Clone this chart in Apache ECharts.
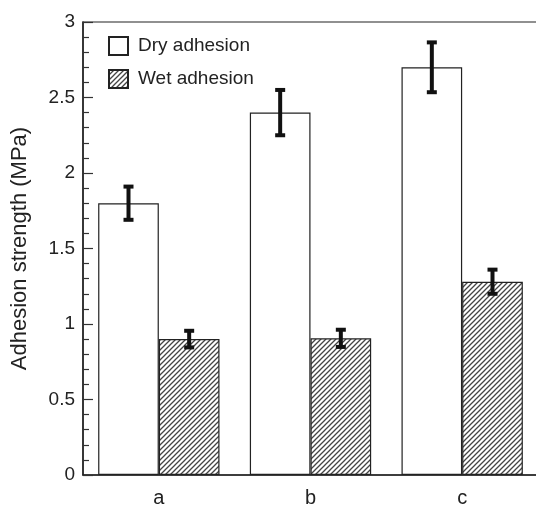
<!DOCTYPE html>
<html>
<head>
<meta charset="utf-8">
<script src="https://cdn.jsdelivr.net/npm/echarts@6/dist/echarts.min.js"></script>
<style>
html,body{margin:0;padding:0;background:#fff;}
#chart{width:536px;height:506px;}
</style>
</head>
<body>
<div id="chart"></div>
<script>
// ---- data ----
var categories = ['a', 'b', 'c'];
var dryValues = [1.80, 2.40, 2.70];
var dryErrors = [0.11, 0.15, 0.165];
var wetValues = [0.90, 0.905, 1.28];
var wetErrors = [0.055, 0.057, 0.08];
var seriesNames = ['Dry adhesion', 'Wet adhesion'];
var yAxisName = 'Adhesion strength (MPa)';

// ---- hatch pattern ----
function makeHatch() {
  var p = 5;
  var c = document.createElement('canvas');
  c.width = p; c.height = p;
  var ctx = c.getContext('2d');
  ctx.fillStyle = '#ffffff';
  ctx.fillRect(0, 0, p, p);
  ctx.strokeStyle = '#444';
  ctx.lineWidth = 1.3;
  ctx.beginPath();
  ctx.moveTo(0, p); ctx.lineTo(p, 0);
  ctx.moveTo(-1, 1); ctx.lineTo(1, -1);
  ctx.moveTo(p - 1, p + 1); ctx.lineTo(p + 1, p - 1);
  ctx.stroke();
  return c;
}
var hatch = { image: makeHatch(), repeat: 'repeat' };
var font = "'Liberation Sans', Arial, Helvetica, sans-serif";

function errData(vals, errs) {
  return vals.map(function (v, i) { return [i, v, errs[i]]; });
}
function errRender(side) {
  return function (params, api) {
    var idx = api.value(0), v = api.value(1), e = api.value(2);
    var band = api.size([1, 0])[0];
    var x = api.coord([idx, v])[0] + side * 0.2 * band;
    var yt = api.coord([idx, v + e])[1];
    var yb = api.coord([idx, v - e])[1];
    var cw = 5;
    var st = { stroke: '#111', lineWidth: 4 };
    return {
      type: 'group',
      children: [
        { type: 'line', shape: { x1: x, y1: yt, x2: x, y2: yb }, style: st },
        { type: 'line', shape: { x1: x - cw, y1: yt, x2: x + cw, y2: yt }, style: st },
        { type: 'line', shape: { x1: x - cw, y1: yb, x2: x + cw, y2: yb }, style: st }
      ]
    };
  };
}

var chart = echarts.init(document.getElementById('chart'), null, { renderer: 'canvas' });
chart.setOption({
  animation: false,
  backgroundColor: '#fff',
  textStyle: { fontFamily: font },
  grid: {
    left: 83, top: 22, right: -2, bottom: 31,
    show: true, borderColor: '#222', borderWidth: 1.2,
    containLabel: false, outerBoundsMode: 'none'
  },
  legend: {
    orient: 'vertical', left: 108, top: 36, padding: 0,
    itemWidth: 19, itemHeight: 18, itemGap: 13,
    icon: 'rect',
    textStyle: { fontSize: 19, color: '#222', fontFamily: font, padding: [0, 0, 0, 5] },
    data: seriesNames
  },
  xAxis: {
    type: 'category',
    data: categories,
    axisLine: { lineStyle: { color: '#222', width: 1.5 } },
    axisTick: { inside: true, length: 10, lineStyle: { color: '#333', width: 1 } },
    axisLabel: { fontSize: 20, color: '#222', margin: 13, fontFamily: font },
    splitLine: { show: false }
  },
  yAxis: {
    type: 'value',
    min: 0, max: 3, interval: 0.5,
    name: yAxisName,
    nameLocation: 'middle',
    nameGap: 52,
    nameTextStyle: { fontSize: 22, color: '#222', fontFamily: font },
    axisLine: { show: true, lineStyle: { color: '#222', width: 1.5 } },
    axisTick: { show: true, inside: true, length: 10, lineStyle: { color: '#333', width: 1.2 } },
    minorTick: { show: true, splitNumber: 5, length: 6, lineStyle: { color: '#333', width: 1.2 } },
    axisLabel: { fontSize: 19, color: '#222', margin: 8, fontFamily: font },
    splitLine: { show: false }
  },
  series: [
    {
      name: seriesNames[0], type: 'bar', data: dryValues,
      barGap: '0%', barCategoryGap: '20%',
      itemStyle: { color: '#fff', borderColor: '#222', borderWidth: 1.2 }
    },
    {
      name: seriesNames[1], type: 'bar', data: wetValues,
      barGap: '0%', barCategoryGap: '20%',
      itemStyle: { color: hatch, borderColor: '#222', borderWidth: 1.2 }
    },
    {
      type: 'custom', name: 'dryErr', data: errData(dryValues, dryErrors),
      encode: { x: 0, y: 1 }, renderItem: errRender(-1), z: 10
    },
    {
      type: 'custom', name: 'wetErr', data: errData(wetValues, wetErrors),
      encode: { x: 0, y: 1 }, renderItem: errRender(1), z: 10
    }
  ]
});
</script>
</body>
</html>
